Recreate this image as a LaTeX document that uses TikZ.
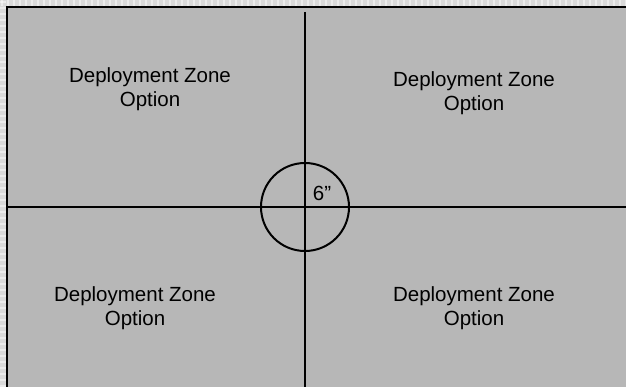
\documentclass[tikz,border=0pt]{standalone}
\usepackage{fontspec}
\setmainfont{Liberation Sans}
\usepackage{xcolor}
\definecolor{tablegray}{HTML}{B7B7B7}
\definecolor{edgegray}{HTML}{D9D9D9}

\begin{document}
\begin{tikzpicture}[x=1pt,y=-1pt,
  zonelabel/.style={align=center,inner sep=0pt,font=\fontsize{20.5}{23.5}\selectfont}]
  \useasboundingbox (0,0) rectangle (626,387);
  % page edge and table surface
  \fill[edgegray] (0,0) rectangle (626,387);
  \foreach \x in {2,8,...,626} \draw[white,opacity=0.45,line width=1.5pt] (\x,0) -- (\x,6);
  \foreach \y in {2,8,...,387} \draw[white,opacity=0.45,line width=1.5pt] (0,\y) -- (6,\y);
  \fill[tablegray] (7,7) rectangle (626,387);
  \draw[line width=2.5pt] (7,387) -- (7,7) -- (626,7);
  % centre lines
  \coordinate (ctop) at (305,12);
  \coordinate (cbot) at (305,387);
  \coordinate (cleft) at (7,207);
  \coordinate (cright) at (626,207);
  \coordinate (mid) at (305,207);
  \draw[line width=2pt] (ctop) -- (cbot);
  \draw[line width=2pt] (cleft) -- (cright);
  \draw[line width=2pt] (mid) circle[radius=44];
  \node[zonelabel] (six) at (322,193) {6”};
  % deployment zones
  \node[zonelabel] (zoneA) at (150,89) {Deployment Zone\\Option};
  \node[zonelabel] (zoneB) at (474,93) {Deployment Zone\\Option};
  \node[zonelabel] (zoneC) at (135,308) {Deployment Zone\\Option};
  \node[zonelabel] (zoneD) at (474,308) {Deployment Zone\\Option};
\end{tikzpicture}
\end{document}
